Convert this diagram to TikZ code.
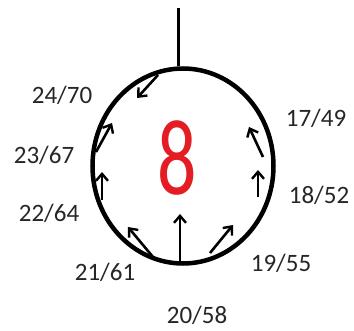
\documentclass[tikz,border=0pt]{standalone}
\usepackage{fontspec}
\setmainfont{Carlito}
\usetikzlibrary{arrows.meta,shapes.geometric}
\definecolor{eightred}{RGB}{228,28,36}
\tikzset{
  ring/.style={draw=black, line width=4.5pt, ellipse, minimum width=181pt, minimum height=195pt, inner sep=0pt},
  flow/.style={line width=2.6pt, -{Straight Barb[length=7pt,width=12pt,line width=2.4pt]}},
  lbl/.style={font=\fontsize{25}{25}\selectfont, text=black!85, inner sep=0pt}
}
\begin{document}
\begin{tikzpicture}[x=1pt,y=1pt]
\useasboundingbox (0,0) rectangle (354,330);
\node[ring] (c) at (183,164) {};
\coordinate (top) at (178,322);
\draw[line width=3pt] (top) -- (top |- c.north);
\node[text=eightred, font=\fontsize{108}{108}\selectfont, xscale=0.72, inner sep=0pt] (eight) at (177,172) {8};
% arrows
\coordinate (a1s) at (180,68);  \coordinate (a1e) at (180,116);
\coordinate (a2s) at (153,73);  \coordinate (a2e) at (128,103);
\coordinate (a3s) at (210,77);  \coordinate (a3e) at (233,105);
\coordinate (a4s) at (102,130); \coordinate (a4e) at (102,158);
\coordinate (a5s) at (96,178);  \coordinate (a5e) at (112,207);
\coordinate (a6s) at (158,255); \coordinate (a6e) at (137,232);
\coordinate (a7s) at (263,173); \coordinate (a7e) at (249,203);
\coordinate (a8s) at (258,133); \coordinate (a8e) at (258,160);
\foreach \i in {1,...,8} {\draw[flow] (a\i s) -- (a\i e);}
% labels
\node[lbl] (l2470) at (62,235) {24/70};
\node[lbl] (l2367) at (44,175) {23/67};
\node[lbl] (l2264) at (49,117) {22/64};
\node[lbl] (l2161) at (105,58) {21/61};
\node[lbl] (l2058) at (197,15) {20/58};
\node[lbl] (l1955) at (281,67) {19/55};
\node[lbl] (l1852) at (319,135) {18/52};
\node[lbl] (l1749) at (316,212) {17/49};
\end{tikzpicture}
\end{document}
